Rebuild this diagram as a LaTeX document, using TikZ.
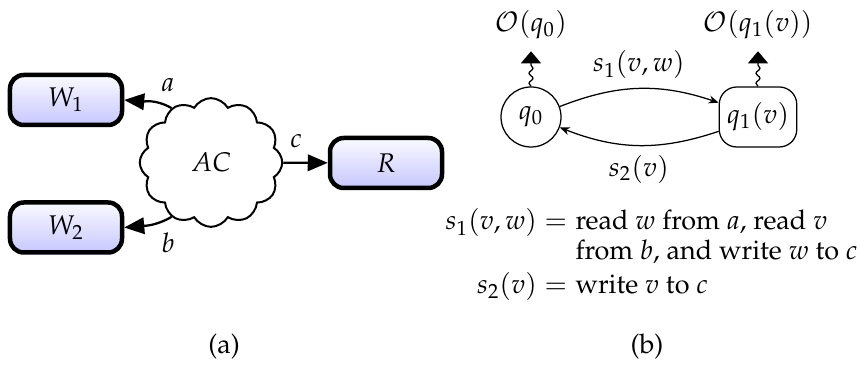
\documentclass[tikz,border=0pt]{standalone}
\usepackage[T1]{fontenc}
\usepackage{mathpazo}
\usetikzlibrary{shapes.symbols,arrows.meta,decorations.pathmorphing}
\tikzset{
  proc/.style={draw=black, line width=1.8pt, rounded corners=5.5pt,
    top color=blue!2, bottom color=blue!22,
    minimum width=44.8pt, minimum height=20pt, inner sep=0pt},
  chan/.style={draw, cloud, cloud puffs=12, cloud puff arc=120, cloud ignores aspect,
    minimum width=57pt, minimum height=51.5pt, line width=0.8pt, inner sep=0pt},
  bigtip/.style={-{Triangle[length=8pt,width=6.6pt]}, line width=0.9pt},
  st/.style={draw, line width=0.5pt, minimum height=24pt, inner sep=0pt},
  trans/.style={-{Stealth[length=4pt,width=3.2pt]}, line width=0.5pt},
  obs/.style={decorate, decoration={snake, amplitude=0.8pt, segment length=4pt, post length=5pt},
    -{Triangle[length=4.8pt,width=8pt]}, line width=0.5pt},
  obslbl/.style={inner sep=0pt, outer ysep=4.8pt},
  txt/.style={inner sep=0pt},
}
\begin{document}
\fontsize{10.8}{13.4}\selectfont
\begin{tikzpicture}[x=0.4pt,y=-0.4pt]
\useasboundingbox (0,0) rectangle (858,378);
% (a)
\node[proc] (W1) at (66,100) {$W_1$};
\node[proc] (W2) at (66,227.5) {$W_2$};
\node[proc] (R) at (386,163) {$R$};
\node[chan] (AC) at (211,162.5) {$AC$};
\draw[bigtip] (AC.126) to[out=150,in=-5] (W1.east);
\draw[bigtip] (AC.-126) to[out=-150,in=5] (W2.east);
\draw[bigtip] (AC) -- (R);
\node (la) at (168,85) {$a$};
\node (lb) at (168,243) {$b$};
\node (lc) at (296,141) {$c$};
\node (capa) at (224,347) {(a)};
% (b)
\node[st, circle, minimum size=24pt] (q0) at (531,117) {$q_0$};
\node[st, rounded corners=7pt, minimum width=31pt] (q1) at (758,117) {$q_1(v)$};
\draw[trans] (q0) to[bend left=20] node[above] {$s_1(v,w)$} (q1);
\draw[trans] (q1) to[bend left=20] node[below] {$s_2(v)$} (q0);
\node[obslbl] (O0) at (531,25) {$\mathcal{O}(q_0)$};
\node[obslbl] (O1) at (758,25) {$\mathcal{O}(q_1(v))$};
\draw[obs] (q0.north) -- (O0.south);
\draw[obs] (q1.north) -- (O1.south);
\node[txt, anchor=base east] (d1l) at (575,230) {$s_1(v,w) = {}$};
\node[txt, anchor=base west] (d1r) at (575,230) {read $w$ from $a$, read $v$};
\node[txt, anchor=base west] (d2) at (575,260) {from $b$, and write $w$ to $c$};
\node[txt, anchor=base east] (d3l) at (575,294) {$s_2(v) = {}$};
\node[txt, anchor=base west] (d3r) at (575,294) {write $v$ to $c$};
\node (capb) at (647,347) {(b)};
\end{tikzpicture}
\end{document}
